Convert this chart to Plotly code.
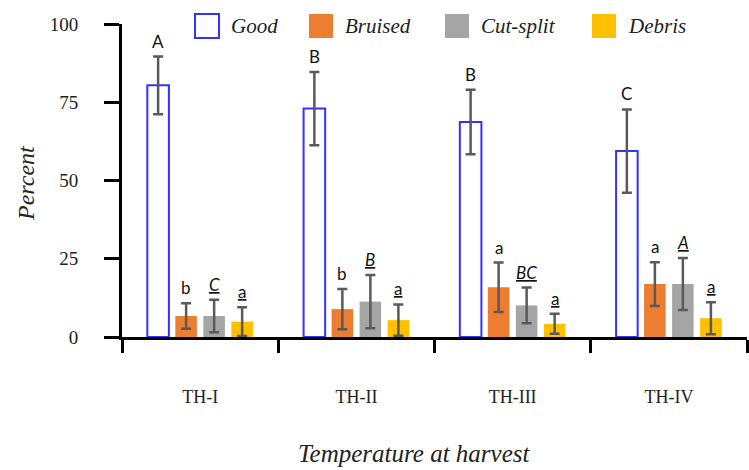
import plotly.graph_objects as go

# Harvest temperature groups
categories = ["TH-I", "TH-II", "TH-III", "TH-IV"]

# Mean percentages per quality class
good = [80.4, 73.0, 68.7, 59.4]
bruised = [6.7, 8.9, 15.9, 16.9]
cut_split = [6.7, 11.3, 10.1, 16.9]
debris = [4.9, 5.4, 4.2, 6.0]

# Error bar half-widths
good_err = [9.2, 11.7, 10.3, 13.3]
bruised_err = [4.1, 6.4, 7.9, 7.0]
cut_split_err = [5.2, 8.5, 5.7, 8.3]
debris_err = [4.6, 5.0, 3.2, 5.1]

# Significance letters
good_letters = ["A", "B", "B", "C"]
bruised_letters = ["b", "b", "a", "a"]
cut_split_letters = ["<i><u>C</u></i>", "<i><u>B</u></i>", "<i><u>BC</u></i>", "<i><u>A</u></i>"]
debris_letters = ["<u>a</u>", "<u>a</u>", "<u>a</u>", "<u>a</u>"]

series_names = ["Good", "Bruised", "Cut-split", "Debris"]
values = [good, bruised, cut_split, debris]
errors = [good_err, bruised_err, cut_split_err, debris_err]
letters = [good_letters, bruised_letters, cut_split_letters, debris_letters]
fills = ["white", "#ED7D31", "#A5A5A5", "#FFC000"]
outlines = ["#3333FF", "rgba(0,0,0,0)", "rgba(0,0,0,0)", "rgba(0,0,0,0)"]

SERIF = "Liberation Serif"
SANS = "Lato"

# plot area geometry (pixels)
W, H = 749, 470
L, R, T, B = 122, 2, 24, 133
PW, PH = W - L - R, H - T - B


def px_x(p):
    return (p - L) / PW


def px_y(p):
    return (H - B - p) / PH


fig = go.Figure()

for k, name in enumerate(series_names):
    fig.add_trace(go.Bar(
        x=categories, y=values[k], name=name, showlegend=False,
        marker=dict(color=fills[k], line=dict(color=outlines[k], width=2 if k == 0 else 0)),
        error_y=dict(type="data", array=errors[k], visible=True,
                     color="#5A5A5A", thickness=2.5, width=5),
    ))

# letters above the error bars
pitch = 28
for k in range(4):
    for i, cat in enumerate(categories):
        fig.add_annotation(
            x=cat, y=values[k][i] + errors[k][i], xref="x", yref="y",
            text=letters[k][i], showarrow=False, yanchor="bottom", xanchor="center",
            xshift=(k - 1.5) * pitch, yshift=3,
            font=dict(family=SANS, size=17, color="#111111"),
        )

# legend drawn as squares with labels
legend_sq_x = [195, 309, 445, 592]
for k, name in enumerate(series_names):
    x0 = legend_sq_x[k]
    fig.add_shape(
        type="rect", xref="paper", yref="paper",
        x0=px_x(x0), x1=px_x(x0 + 24), y0=px_y(38), y1=px_y(14),
        fillcolor=fills[k],
        line=dict(color="#3333FF" if k == 0 else fills[k], width=2 if k == 0 else 0),
    )
    fig.add_annotation(
        x=px_x(x0 + 34), y=px_y(26), xref="paper", yref="paper",
        text=name, showarrow=False, xanchor="left", yanchor="middle",
        font=dict(family=SERIF, size=21, color="#222222", style="italic"),
    )

# axis titles
fig.add_annotation(
    x=px_x(414), y=px_y(453), xref="paper", yref="paper",
    text="Temperature at harvest", showarrow=False,
    xanchor="center", yanchor="middle",
    font=dict(family=SERIF, size=25, color="#222222", style="italic"),
)
fig.add_annotation(
    x=px_x(26), y=px_y(183), xref="paper", yref="paper",
    text="Percent", showarrow=False, textangle=-90,
    xanchor="center", yanchor="middle",
    font=dict(family=SERIF, size=24, color="#222222", style="italic"),
)

fig.update_layout(
    width=W, height=H,
    margin=dict(l=L, r=R, t=T, b=B),
    paper_bgcolor="white", plot_bgcolor="white",
    barmode="group", bargap=0.283, bargroupgap=0.23,
    showlegend=False,
)

fig.update_xaxes(
    type="category", range=[-0.5, 3.5],
    showline=True, linecolor="black", linewidth=3,
    ticks="outside", tickson="boundaries", ticklen=13, tickwidth=3, tickcolor="black",
    ticklabelstandoff=41, showgrid=False, zeroline=False,
    tickfont=dict(family=SERIF, size=18, color="#222222"),
)
fig.update_yaxes(
    range=[0, 100], tickvals=[0, 25, 50, 75, 100],
    showline=True, linecolor="black", linewidth=3,
    ticks="outside", ticklen=15, tickwidth=3, tickcolor="black",
    ticklabelstandoff=22, showgrid=False, zeroline=False,
    tickfont=dict(family=SERIF, size=19, color="#222222"),
)

fig.write_html("out.html")
